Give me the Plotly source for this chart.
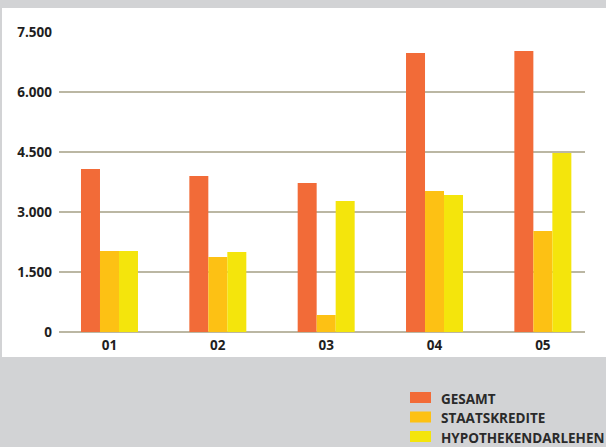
import plotly.graph_objects as go

# Jahre / Kategorien
years = ["01", "02", "03", "04", "05"]

# Werte je Serie
gesamt = [4075, 3900, 3725, 6975, 7025]
staatskredite = [2025, 1875, 425, 3525, 2525]
hypothekendarlehen = [2025, 2000, 3275, 3425, 4475]

series_names = ["GESAMT", "STAATSKREDITE", "HYPOTHEKENDARLEHEN"]
series_values = [gesamt, staatskredite, hypothekendarlehen]
series_colors = ["#f26b38", "#fdc114", "#f4e50c"]

# y-Achse
y_tickvals = [0, 1500, 3000, 4500, 6000, 7500]
y_ticktext = ["0", "1.500", "3.000", "4.500", "6.000", "7.500"]

W, H = 606, 447
ML, MR, MT, MB = 59, 21, 32, 115
PW, PH = W - ML - MR, H - MT - MB

fig = go.Figure()
for name, vals, col in zip(series_names, series_values, series_colors):
    fig.add_trace(go.Bar(x=years, y=vals, name=name, marker_color=col,
                         marker_line_width=0, showlegend=False))

def px_x(p):
    return (p - ML) / PW

def px_y(p):
    return (H - MB - p) / PH

shapes = [
    # weisses Feld hinter dem Diagramm
    dict(type="rect", xref="paper", yref="paper", layer="below",
         x0=px_x(2), x1=px_x(W + 2), y0=px_y(357), y1=px_y(8),
         fillcolor="white", line_width=0),
]
annotations = []

# Legende unten rechts
for i, (name, col) in enumerate(zip(series_names, series_colors)):
    top = 392 + i * 19.5
    shapes.append(dict(type="rect", xref="paper", yref="paper",
                       x0=px_x(410), x1=px_x(431), y0=px_y(top + 11), y1=px_y(top),
                       fillcolor=col, line_width=0))
    annotations.append(dict(xref="paper", yref="paper", x=px_x(439), y=px_y(top + 6.5),
                            xanchor="left", yanchor="middle", showarrow=False,
                            text="<b>%s</b>" % name,
                            font=dict(family="Open Sans", size=13.5, color="#2a2a2a")))

fig.update_layout(
    width=W, height=H,
    margin=dict(l=ML, r=MR, t=MT, b=MB),
    paper_bgcolor="#d2d3d5",
    plot_bgcolor="white",
    barmode="group",
    bargap=0.474,
    bargroupgap=0,
    shapes=shapes,
    annotations=annotations,
    font=dict(family="Open Sans", color="#1e1e1e"),
    xaxis=dict(type="category", range=[-0.466, 4.389], showgrid=False,
               showline=False, ticks="", ticklabelstandoff=3,
               tickvals=years, ticktext=["<b>%s</b>" % y for y in years],
               tickfont=dict(size=13.5)),
    yaxis=dict(range=[0, 7500], tickvals=y_tickvals,
               ticktext=["<b>%s</b>" % t for t in y_ticktext],
               showgrid=True, gridcolor="#bbb7a3", gridwidth=2,
               zeroline=True, zerolinecolor="#bbb7a3", zerolinewidth=2,
               showline=False, ticks="", ticklabelstandoff=6,
               tickfont=dict(size=13.5)),
)

fig.write_html("out.html")
